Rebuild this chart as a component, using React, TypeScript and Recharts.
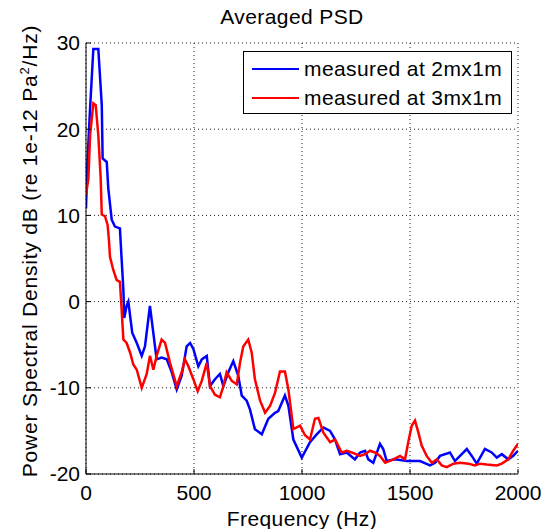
import React from 'react';
import { LineChart, Line, XAxis, YAxis, CartesianGrid, Legend } from 'recharts';

// frequency (Hz) / level (dB) pairs
const freq2m = [0, 6, 18, 34, 57, 73, 77, 96, 103, 119, 134, 157, 165, 173, 177, 188, 196, 214, 235, 258, 273, 296, 304, 327, 350, 374, 397, 420, 443, 466, 482, 497, 520, 536, 559, 574, 597, 620, 636, 659, 682, 705, 721, 744, 759, 782, 814, 844, 875, 890, 921, 937, 960, 999, 1037, 1068, 1099, 1130, 1153, 1176, 1207, 1245, 1269, 1292, 1307, 1330, 1361, 1376, 1392, 1431, 1485, 1546, 1593, 1616, 1639, 1685, 1708, 1763, 1786, 1809, 1847, 1878, 1902, 1925, 1955, 1978, 2000];
const psd2m = [10.8, 15.8, 22.0, 29.3, 29.3, 22.8, 16.6, 16.2, 13.2, 9.5, 8.7, 8.5, 4.9, 1.4, -1.9, -0.5, 0.0, -3.6, -4.8, -6.3, -5.2, -0.5, -2.1, -6.7, -6.5, -6.7, -8.2, -10.2, -8.6, -5.2, -4.8, -5.5, -7.5, -6.7, -6.3, -9.8, -9.0, -8.4, -9.8, -8.2, -6.9, -8.6, -10.9, -11.5, -12.5, -14.8, -15.4, -13.6, -12.9, -12.7, -10.9, -12.1, -16.0, -18.1, -16.3, -15.4, -14.6, -15.0, -16.0, -17.7, -17.5, -18.3, -17.5, -17.3, -18.3, -18.7, -16.5, -17.1, -18.5, -18.3, -18.5, -18.5, -19.0, -18.7, -17.9, -17.5, -18.5, -17.1, -17.9, -18.8, -17.1, -17.5, -18.1, -17.7, -18.3, -17.9, -17.3];

const freq3m = [0, 11, 19, 34, 45, 57, 68, 73, 88, 100, 106, 111, 126, 142, 157, 165, 173, 188, 204, 219, 235, 258, 281, 296, 312, 327, 350, 366, 389, 420, 443, 458, 474, 497, 517, 536, 559, 574, 597, 620, 636, 651, 675, 698, 713, 728, 751, 767, 782, 806, 829, 852, 875, 898, 921, 937, 960, 991, 1014, 1037, 1060, 1076, 1099, 1130, 1153, 1184, 1207, 1230, 1269, 1292, 1315, 1338, 1361, 1385, 1423, 1454, 1477, 1492, 1508, 1523, 1539, 1554, 1577, 1601, 1624, 1647, 1670, 1701, 1732, 1770, 1801, 1824, 1855, 1902, 1925, 1955, 1978, 2000];
const psd3m = [12.4, 14.3, 19.3, 23.0, 22.8, 19.3, 14.3, 10.1, 9.9, 8.9, 7.2, 5.2, 3.7, 2.5, 2.3, -0.9, -4.4, -4.8, -5.9, -7.3, -7.9, -10.0, -8.4, -6.3, -7.9, -6.3, -4.4, -4.8, -7.1, -9.8, -8.2, -6.7, -7.5, -9.0, -10.4, -9.2, -7.1, -9.8, -10.8, -11.1, -9.8, -8.2, -9.2, -9.6, -7.1, -5.2, -4.4, -5.9, -9.0, -11.5, -12.9, -12.1, -10.6, -8.1, -8.1, -10.2, -14.8, -14.4, -15.5, -16.0, -13.6, -13.5, -15.2, -16.3, -16.0, -17.5, -17.3, -17.5, -17.9, -17.7, -17.3, -17.5, -17.9, -18.7, -18.3, -17.9, -18.3, -16.3, -14.4, -13.8, -15.2, -16.7, -17.9, -18.7, -18.3, -19.0, -19.2, -18.8, -18.7, -18.8, -19.0, -18.8, -18.9, -19.0, -18.8, -18.3, -17.3, -16.5];

const xTicks = [0, 500, 1000, 1500, 2000];
const yTicks = [-20, -10, 0, 10, 20, 30];

const series = [
    { name: 'measured at 2mx1m', color: '#0000ff', data: freq2m.map((f, i) => ({ f, db: psd2m[i] })) },
    { name: 'measured at 3mx1m', color: '#ff0000', data: freq3m.map((f, i) => ({ f, db: psd3m[i] })) },
];

const FONT = '"Liberation Sans", Arial, Helvetica, sans-serif';

function LegendBox() {
    return (
        <div style={{ width: 269, height: 63, boxSizing: 'border-box', border: '1px solid #000', background: '#fff', fontFamily: FONT, fontSize: 21, letterSpacing: 0.4, color: '#000', paddingTop: 2 }}>
            {series.map((s) => (
                <div key={s.name} style={{ display: 'flex', alignItems: 'center', height: 29 }}>
                    <div style={{ width: 47, height: 2, background: s.color, marginLeft: 8, marginRight: 5 }} />
                    <span style={{ whiteSpace: 'nowrap' }}>{s.name}</span>
                </div>
            ))}
        </div>
    );
}

function YLabel() {
    return (
        <text transform="translate(37,251) rotate(-90)" textAnchor="middle" fontFamily={FONT} fontSize={21} letterSpacing={0.8} fill="#000">
            Power Spectral Density dB (re 1e-12 Pa<tspan dy={-8} fontSize={13}>2</tspan><tspan dy={8}>/Hz)</tspan>
        </text>
    );
}

export default function App() {
    const tickStyle = { fontSize: 21, fill: '#000', fontFamily: FONT };
    return (
        <div style={{ position: 'absolute', left: 0, top: 0, width: 555, height: 529, background: '#fff' }}>
            <div style={{ position: 'absolute', left: 0, width: 584, top: 5, textAlign: 'center', fontFamily: FONT, fontSize: 21, letterSpacing: 0.4, color: '#000' }}>
                Averaged PSD
            </div>
            <LineChart width={555} height={529} data={series[0].data} margin={{ top: 43, right: 37, left: 26, bottom: 25 }}>
                <CartesianGrid stroke="#222" strokeDasharray="1 3" />
                <XAxis dataKey="f" type="number" domain={[0, 2000]} ticks={xTicks} allowDataOverflow
                    height={30} tickSize={-5} tickMargin={16} tick={tickStyle}
                    stroke="#000" tickLine={{ stroke: '#000' }}
                    label={{ value: 'Frequency (Hz)', position: 'insideBottom', offset: -22, style: { fontSize: 21, letterSpacing: 0.4, fill: '#000', fontFamily: FONT } }} />
                <XAxis xAxisId="top" orientation="top" dataKey="f" type="number" domain={[0, 2000]} ticks={xTicks}
                    height={0} tickSize={-5} tick={false} stroke="#000" />
                <YAxis type="number" domain={[-20, 30]} ticks={yTicks} allowDataOverflow
                    width={60} tickSize={-5} tickMargin={11} tick={tickStyle} stroke="#000"
                    label={<YLabel />} />
                <YAxis yAxisId="right" orientation="right" type="number" domain={[-20, 30]} ticks={yTicks}
                    width={0} tickSize={-5} tick={false} stroke="#000" />
                <Legend layout="vertical" align="center" verticalAlign="middle"
                    wrapperStyle={{ position: 'absolute', left: 243, top: 51, width: 269 }}
                    content={() => <LegendBox />} />
                {series.map((s) => (
                    <Line key={s.name} data={s.data} dataKey="db" name={s.name} type="linear"
                        stroke={s.color} strokeWidth={2.5} dot={false} isAnimationActive={false} />
                ))}
            </LineChart>
        </div>
    );
}
